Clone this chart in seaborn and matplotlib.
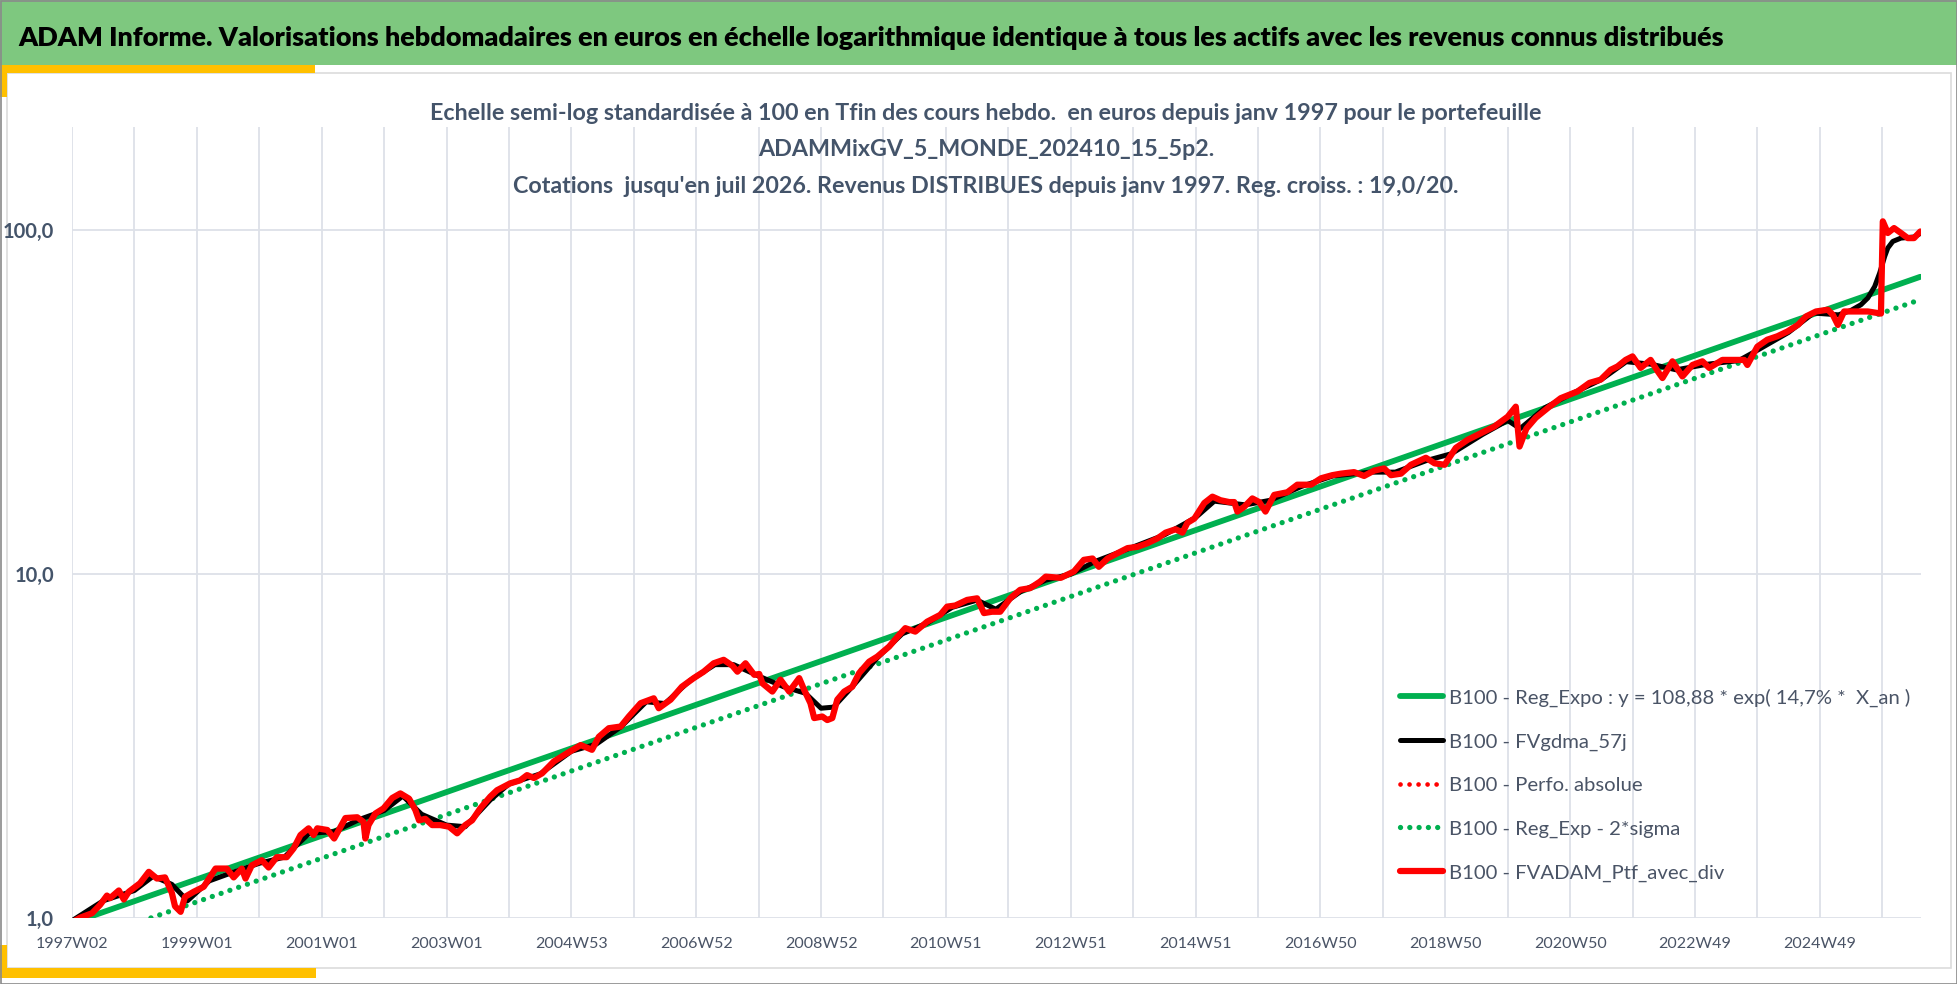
import numpy as np
import pandas as pd
import matplotlib
matplotlib.use("Agg")
import matplotlib.pyplot as plt
from matplotlib.patches import Rectangle
from matplotlib.ticker import FixedLocator, NullLocator
import seaborn as sns

# --- data (t = position in 52-week steps from 1997W02) ---
red_t = [1997.00, 1997.13, 1997.32, 1997.45, 1997.56, 1997.61, 1997.75, 1997.83, 1997.91,
         1998.09, 1998.23, 1998.36, 1998.49, 1998.60, 1998.65, 1998.74, 1998.81, 1998.95,
         1999.11, 1999.30, 1999.48, 1999.59, 1999.72, 1999.78, 1999.88,
         2000.04, 2000.15, 2000.28, 2000.44, 2000.55, 2000.66, 2000.79, 2000.87, 2000.93,
         2001.09, 2001.20, 2001.38, 2001.57, 2001.67, 2001.70, 2001.75, 2001.86, 2001.99,
         2002.13, 2002.26, 2002.40, 2002.50, 2002.56, 2002.66, 2002.77, 2002.90,
         2003.04, 2003.17, 2003.30, 2003.41, 2003.54, 2003.70, 2003.81,
         2004.02, 2004.18, 2004.29, 2004.40, 2004.53, 2004.72, 2004.93,
         2005.15, 2005.33, 2005.44, 2005.60, 2005.79, 2005.92,
         2006.11, 2006.32, 2006.40, 2006.59, 2006.77, 2006.96,
         2007.12, 2007.28, 2007.44, 2007.58, 2007.66, 2007.79, 2007.93,
         2008.01, 2008.06, 2008.22, 2008.35, 2008.49, 2008.65, 2008.73, 2008.83, 2008.89,
         2009.02, 2009.10, 2009.18, 2009.26, 2009.37, 2009.50, 2009.61, 2009.77, 2009.90,
         2010.09, 2010.25, 2010.35, 2010.51, 2010.70, 2010.91,
         2011.02, 2011.15, 2011.34, 2011.50, 2011.61, 2011.74, 2011.87,
         2012.03, 2012.19, 2012.35, 2012.51, 2012.60, 2012.84,
         2013.05, 2013.21, 2013.35, 2013.45, 2013.59, 2013.75, 2013.91,
         2014.07, 2014.23, 2014.39, 2014.52, 2014.68, 2014.79, 2014.87, 2014.98,
         2015.14, 2015.27, 2015.40, 2015.54, 2015.62, 2015.67, 2015.78, 2015.91,
         2016.02, 2016.12, 2016.26, 2016.47, 2016.63, 2016.85,
         2017.01, 2017.19, 2017.33, 2017.54, 2017.70, 2017.86,
         2018.02, 2018.13, 2018.29, 2018.45, 2018.69, 2018.83, 2018.99,
         2019.17, 2019.36, 2019.57, 2019.79,
         2020.00, 2020.13, 2020.19, 2020.30, 2020.45, 2020.65, 2020.85,
         2021.12, 2021.31, 2021.49, 2021.65, 2021.76, 2021.89,
         2022.00, 2022.13, 2022.29, 2022.40, 2022.48, 2022.64, 2022.80, 2022.96,
         2023.12, 2023.23, 2023.44, 2023.63, 2023.79, 2023.84,
         2024.00, 2024.16, 2024.32, 2024.48, 2024.65, 2024.78, 2024.94,
         2025.13, 2025.21, 2025.29, 2025.39, 2025.61, 2025.77, 2025.98,
         2026.01, 2026.09, 2026.19, 2026.30, 2026.41, 2026.51, 2026.61]
red_v = [0.97, 1.00, 1.03, 1.09, 1.16, 1.14, 1.20, 1.13, 1.19,
         1.26, 1.36, 1.30, 1.31, 1.18, 1.08, 1.04, 1.15, 1.19,
         1.23, 1.39, 1.39, 1.31, 1.39, 1.30, 1.42,
         1.47, 1.40, 1.50, 1.50, 1.59, 1.74, 1.82, 1.74, 1.82,
         1.80, 1.70, 1.95, 1.96, 1.90, 1.70, 1.86, 2.01, 2.08,
         2.23, 2.30, 2.22, 2.06, 1.92, 1.94, 1.86, 1.86,
         1.84, 1.76, 1.86, 1.92, 2.08, 2.25, 2.35,
         2.46, 2.51, 2.60, 2.55, 2.63, 2.85, 3.01,
         3.18, 3.08, 3.36, 3.56, 3.60, 3.85,
         4.21, 4.35, 4.07, 4.31, 4.70, 4.98,
         5.20, 5.50, 5.63, 5.41, 5.20, 5.50, 5.09,
         5.12, 4.81, 4.55, 4.93, 4.55, 4.98, 4.60, 4.21, 3.81,
         3.85, 3.76, 3.81, 4.31, 4.55, 4.70, 5.15, 5.56, 5.75,
         6.15, 6.65, 6.96, 6.80, 7.27, 7.61,
         8.04, 8.10, 8.41, 8.50, 7.70, 7.77, 7.77,
         8.50, 9.00, 9.10, 9.51, 9.83, 9.75,
         10.17, 11.0, 11.1, 10.5, 11.1, 11.5, 11.9,
         12.0, 12.3, 12.7, 13.2, 13.5, 13.2, 14.1, 14.5,
         16.1, 16.8, 16.4, 16.2, 16.2, 15.2, 15.7, 16.6,
         16.2, 15.2, 17.0, 17.3, 18.2, 18.2,
         19.0, 19.4, 19.6, 19.8, 19.3, 20.0,
         20.3, 19.4, 19.6, 20.8, 21.8, 21.0, 20.8,
         23.3, 24.6, 25.7, 26.9,
         28.7, 30.7, 23.5, 26.5, 28.5, 30.5, 32.5,
         34.0, 36.0, 36.8, 39.3, 40.2, 42.0,
         43.0, 39.8, 42.0, 39.0, 37.2, 41.6, 37.6, 40.6,
         41.6, 39.8, 42.0, 42.0, 42.0, 40.6,
         45.9, 48.1, 49.2, 50.8, 53.1, 56.2, 58.1,
         58.8, 56.8, 53.1, 58.1, 58.1, 58.1, 57.3,
         106.3, 98.3, 101.6, 98.3, 95.0, 95.0, 99.3]

# FVgdma_57j (smoothed curve, mostly hidden under the red one)
blk_t = [1997.00, 1997.50, 1998.00, 1998.30, 1998.60, 1998.85, 1999.20, 1999.60, 2000.00,
         2000.40, 2000.80, 2001.20, 2001.60, 2002.00, 2002.30, 2002.60, 2003.00, 2003.30,
         2003.70, 2004.00, 2004.50, 2005.00, 2005.40, 2005.80, 2006.20, 2006.50, 2006.90,
         2007.30, 2007.60, 2008.00, 2008.40, 2008.75, 2009.00, 2009.20, 2009.50, 2009.90,
         2010.30, 2010.70, 2011.10, 2011.50, 2011.80, 2012.20, 2012.60, 2013.00, 2013.40,
         2013.90, 2014.50, 2015.00, 2015.30, 2015.80, 2016.20, 2016.70, 2017.20, 2017.80,
         2018.20, 2018.70, 2019.10, 2019.60, 2020.00, 2020.20, 2020.60, 2021.00, 2021.50,
         2021.90, 2022.30, 2022.70, 2023.20, 2023.70, 2024.00, 2024.50, 2024.90, 2025.30,
         2025.50, 2025.66, 2025.77, 2025.88, 2025.96, 2026.04, 2026.09, 2026.17, 2026.30,
         2026.51, 2026.61]
blk_v = [0.98, 1.12, 1.20, 1.32, 1.25, 1.12, 1.28, 1.36, 1.44,
         1.50, 1.76, 1.78, 1.93, 2.05, 2.26, 2.00, 1.86, 1.84,
         2.20, 2.45, 2.62, 3.05, 3.20, 3.60, 4.25, 4.20, 4.90,
         5.45, 5.45, 5.05, 4.70, 4.50, 4.07, 4.10, 4.70, 5.70,
         6.70, 7.20, 8.00, 8.40, 7.90, 8.90, 9.60, 10.0, 10.9,
         11.8, 13.0, 14.6, 16.3, 15.9, 16.4, 18.0, 19.3, 19.8,
         19.8, 21.4, 22.4, 25.5, 28.0, 26.5, 30.5, 33.3, 36.8,
         41.5, 40.8, 39.3, 40.8, 41.8, 44.8, 50.5, 57.5, 56.8,
         58.5, 60.8, 63.6, 68.7, 75.2, 84.0, 88.9, 92.9, 95.0,
         95.7, 98.0]

# regression line and its -2 sigma band (straight lines on the log scale)
reg_t = [1997.00, 2026.61]
reg_v = [0.965, 73.3]
sig_t = [1997.00, 2026.61]
sig_v = [0.83, 62.9]

xtick_labels = ["1997W02", "1999W01", "2001W01", "2003W01", "2004W53", "2006W52",
                "2008W52", "2010W51", "2012W51", "2014W51", "2016W50", "2018W50",
                "2020W50", "2022W49", "2024W49"]
ytick_vals = [1, 10, 100]
ytick_labels = ["1,0", "10,0", "100,0"]

labels = ["B100 - Reg_Expo : y = 108,88 * exp( 14,7% *  X_an )",
          "B100 - FVgdma_57j",
          "B100 - Perfo. absolue",
          "B100 - Reg_Exp - 2*sigma",
          "B100 - FVADAM_Ptf_avec_div"]

title = ("ADAM Informe. Valorisations hebdomadaires en euros en \u00e9chelle logarithmique "
         "identique \u00e0 tous les actifs avec les revenus connus distribu\u00e9s")
subtitle = ["Echelle semi-log standardis\u00e9e \u00e0 100 en Tfin des cours hebdo.  en euros "
            "depuis janv 1997 pour le portefeuille",
            "ADAMMixGV_5_MONDE_202410_15_5p2.",
            "Cotations  jusqu'en juil 2026. Revenus DISTRIBUES depuis janv 1997. "
            "Reg. croiss. : 19,0/20."]

WEEKS = 52  # one grid step = 52 weekly points


def wk(ts):
    return [(t - 1997.0) * WEEKS for t in ts]


sns.set_theme(style="white")
plt.rcParams["font.family"] = ["Lato", "DejaVu Sans"]

W, H = 1958, 984
fig = plt.figure(figsize=(W / 100, H / 100), dpi=100, facecolor="white")
rend = fig.canvas.get_renderer()

GREEN_BAR = "#7EC87F"
GOLD = "#FFC000"
SLATE = "#44546A"


def box(x0, y0, x1, y1, **kw):
    fig.patches.append(Rectangle((x0 / W, 1 - y1 / H), (x1 - x0) / W, (y1 - y0) / H,
                                 transform=fig.transFigure, figure=fig, zorder=-2, **kw))


# frame decorations (behind the axes)
box(7, 73, 1951, 968, facecolor="white", edgecolor="#DCDCDC", lw=1.2)
box(0, 0, W, 65, facecolor=GREEN_BAR, edgecolor="none")
box(0, 65, 315, 73, facecolor=GOLD, edgecolor="none")
box(0, 65, 7, 97, facecolor=GOLD, edgecolor="none")
box(0, 968, 316, 978, facecolor=GOLD, edgecolor="none")
box(0, 945, 7, 978, facecolor=GOLD, edgecolor="none")
box(0.5, 0.5, W - 0.5, H - 0.5, facecolor="none", edgecolor="#8A8A8A", lw=1.2)


def fit_text(x, y, s, width, **kw):
    t = fig.text(x / W, 1 - y / H, s, fontsize=20, **kw)
    w = t.get_window_extent(renderer=rend).width
    t.set_fontsize(20 * width / w)
    return t


fit_text(18, 46, title, 1713, ha="left", va="baseline", color="black", fontweight="heavy")
sub = fit_text(986, 120, subtitle[0], 1116, ha="center", va="baseline",
               color=SLATE, fontweight="bold")
fs_sub = sub.get_fontsize()
fig.text(986 / W, 1 - 156 / H, subtitle[1], ha="center", va="baseline",
         color=SLATE, fontweight="bold", fontsize=fs_sub)
fig.text(986 / W, 1 - 192.7 / H, subtitle[2], ha="center", va="baseline",
         color=SLATE, fontweight="bold", fontsize=fs_sub)

# plot area
x0, x1, ytop, ybot = 72, 1920.6, 127, 917.7
ax = fig.add_axes([x0 / W, 1 - ybot / H, (x1 - x0) / W, (ybot - ytop) / H])
ax.patch.set_alpha(0)

sns.lineplot(x=wk(reg_t), y=reg_v, ax=ax, color="#00B050", lw=4.2, label=labels[0],
             estimator=None, sort=False, zorder=2)
sns.lineplot(x=wk(sig_t), y=sig_v, ax=ax, color="#00B050", lw=3.8, label=labels[3],
             estimator=None, sort=False, zorder=2,
             linestyle=(0, (0.01, 1.75)), dash_capstyle="round")
sns.lineplot(x=wk(red_t), y=red_v, ax=ax, color="#FF0000", lw=3.4, label=labels[2],
             estimator=None, sort=False, zorder=3,
             linestyle=(0, (0.01, 1.9)), dash_capstyle="round")
sns.lineplot(x=wk(blk_t), y=blk_v, ax=ax, color="black", lw=3.6, label=labels[1],
             estimator=None, sort=False, zorder=4)
sns.lineplot(x=wk(red_t), y=red_v, ax=ax, color="#FF0000", lw=4.5, label=labels[4],
             estimator=None, sort=False, zorder=5)

ax.set_yscale("log")
ax.set_ylim(1, 200)
ax.set_xlim(0, 1540)
for s in ax.spines.values():
    s.set_visible(False)

xt = np.arange(0, 1540, WEEKS)
ax.xaxis.set_major_locator(FixedLocator(xt))
xl = []
for i in range(len(xt)):
    xl.append(xtick_labels[i // 2] if i % 2 == 0 and i // 2 < len(xtick_labels) else "")
ax.set_xticklabels(xl)
ax.yaxis.set_major_locator(FixedLocator(ytick_vals))
ax.yaxis.set_minor_locator(NullLocator())
ax.set_yticklabels(ytick_labels)
ax.set_xlabel("")
ax.set_ylabel("")

ax.grid(True, which="major", color="#DDE1E8", lw=1.3)
ax.tick_params(axis="x", length=4, width=1.3, color="#DDE1E8", pad=10,
               labelsize=11.5, labelcolor="#4A5466")
ax.tick_params(axis="y", length=0, pad=13, labelsize=14.5, labelcolor=SLATE)
for t in ax.get_yticklabels():
    t.set_fontweight("bold")

# legend, text size fitted to the first entry width
probe = fig.text(0, 0, labels[0], fontsize=10)
lw_probe = probe.get_window_extent(renderer=rend).width
probe.remove()
leg_fs = 10 * 460 / lw_probe

h, l = ax.get_legend_handles_labels()
order = [l.index(s) for s in labels]
ax.legend([h[i] for i in order], [l[i] for i in order],
          loc="center left", bbox_to_anchor=(1400 / W, 1 - 785 / H),
          bbox_transform=fig.transFigure, frameon=False, fontsize=leg_fs,
          labelcolor="#4A5466", handlelength=2.1, handletextpad=0.3,
          labelspacing=1.3, borderpad=0, borderaxespad=0)

fig.savefig("out.png", dpi=100, facecolor="white")
